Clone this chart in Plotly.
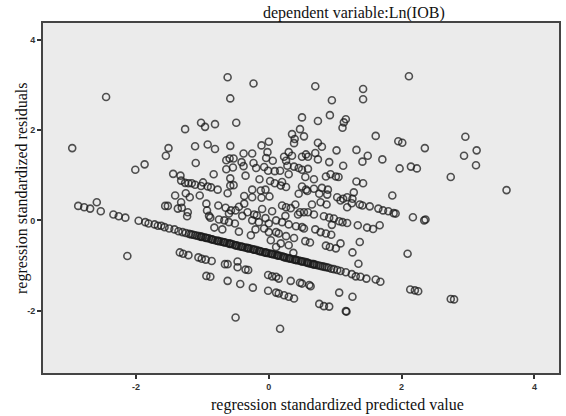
import plotly.graph_objects as go

# ---- data: (regression standardized predicted value, regression standardized residual) ----
upper_cloud = [
    (-0.62, 3.17), (-0.23, 3.03), (-0.58, 2.70), (-1.02, 2.16), (-0.96, 2.07), (-0.81, 2.13),
    (-1.26, 2.02), (-0.49, 2.16), (-1.51, 1.60), (-1.55, 1.43), (-1.11, 1.64), (-0.92, 1.68),
    (-0.81, 1.58), (-0.58, 1.65), (-1.10, 1.27), (-0.83, 1.02), (-1.44, 1.03), (0.00, 1.74),
    (-0.11, 1.66), (-0.38, 1.48), (-0.25, 1.48), (-0.02, 1.51), (-0.64, 1.33), (-0.53, 1.37),
    (-0.59, 1.37), (-0.04, 1.38), (0.06, 1.32), (-0.41, 1.29), (-0.23, 1.27), (-0.64, 1.13),
    (-0.54, 1.17), (-0.38, 1.20), (-0.19, 1.16), (-0.07, 1.18), (-0.01, 1.10), (0.09, 1.09),
    (-0.35, 0.99), (-1.33, 0.99), (-0.58, 0.93), (-0.14, 0.91), (0.02, 0.87), (0.09, 0.82),
    (-1.32, 0.88), (-1.26, 0.83), (-1.21, 0.82), (-1.16, 0.82), (-1.11, 0.79), (-1.02, 0.76),
    (-0.99, 0.84), (-0.92, 0.75), (-0.87, 0.73), (-0.77, 0.68), (-0.58, 0.77), (-0.53, 0.78),
    (-0.62, 0.60), (-0.25, 0.68), (-0.12, 0.66), (-0.05, 0.68), (-1.41, 0.55), (-1.25, 0.60),
    (-1.19, 0.51), (-1.04, 0.55), (-0.37, 0.54), (-0.25, 0.51), (-0.11, 0.50), (0.01, 0.53),
    (2.11, 3.19), (0.70, 2.97), (1.42, 2.91), (1.42, 2.68), (0.95, 2.66), (0.50, 2.28),
    (0.74, 2.20), (0.92, 2.33), (1.16, 2.24), (1.13, 2.17), (1.11, 2.05), (1.61, 1.87),
    (1.95, 1.75), (2.01, 1.72), (2.35, 1.60), (0.35, 1.91), (0.47, 2.02), (0.53, 1.86),
    (0.39, 1.80), (0.38, 1.71), (0.74, 1.72), (0.80, 1.63), (1.02, 1.55), (1.32, 1.56),
    (1.49, 1.43), (1.41, 1.30), (1.71, 1.35), (1.97, 1.15), (2.14, 1.19), (2.23, 1.15),
    (0.30, 1.51), (0.23, 1.41), (0.35, 1.43), (0.26, 1.32), (0.50, 1.41), (0.56, 1.46),
    (0.59, 1.41), (0.70, 1.49), (0.74, 1.35), (0.91, 1.29), (1.12, 1.21), (0.17, 1.10),
    (0.28, 1.21), (0.38, 1.19), (0.45, 1.16), (0.50, 1.12), (0.59, 1.14), (0.30, 1.02),
    (0.55, 0.96), (0.68, 0.91), (0.86, 0.97), (0.93, 1.02), (1.01, 0.97), (1.05, 0.96),
    (0.20, 0.85), (0.26, 0.74), (0.18, 0.77), (0.50, 0.75), (0.56, 0.68), (0.68, 0.70),
    (0.80, 0.72), (0.89, 0.68), (1.32, 0.86), (1.42, 0.82), (1.28, 0.62), (1.86, 0.55),
    (0.45, 0.59), (0.58, 0.65), (0.76, 0.59), (0.88, 0.57), (1.03, 0.51), (1.12, 0.48),
    (1.18, 0.51), (1.26, 0.48), (2.74, 0.96), (2.96, 1.85), (2.94, 1.43), (3.13, 1.55),
    (3.12, 1.22), (3.58, 0.67),
]

mid_cloud = [
    (-1.56, 0.32), (-1.52, 0.32), (-1.37, 0.26), (-1.31, 0.28), (-1.22, 0.18), (-1.23, 0.09),
    (-1.32, 0.40), (-0.94, 0.37), (-0.93, 0.22), (-0.90, 0.10), (-0.88, 0.06), (-0.76, 0.33),
    (-0.65, 0.28), (-0.57, 0.22), (-0.50, 0.22), (-0.60, 0.15), (-0.75, 0.02), (-0.67, 0.00),
    (-0.60, -0.04), (-0.51, -0.07), (-0.82, -0.16), (-0.70, -0.20), (-0.37, 0.37), (-0.32, 0.18),
    (-0.22, 0.13), (-0.18, 0.11), (-0.25, 0.00), (-0.15, -0.04), (-0.05, 0.05), (0.00, -0.07),
    (0.11, 0.00), (0.00, -0.26), (0.11, -0.26), (-0.07, -0.18), (-0.27, -0.33), (0.03, -0.44),
    (0.11, -0.59), (0.20, 0.33), (0.26, 0.29), (0.33, 0.27), (0.78, 0.40), (0.87, 0.35),
    (1.08, 0.44), (1.18, 0.29), (1.25, 0.38), (1.37, 0.35), (1.41, 0.33), (1.52, 0.31),
    (1.65, 0.26), (1.72, 0.22), (1.80, 0.20), (1.88, 0.16), (1.91, 0.15), (2.17, 0.07),
    (2.34, 0.00), (0.53, 0.18), (0.59, 0.18), (0.68, 0.13), (0.83, 0.09), (0.91, 0.06),
    (0.98, 0.04), (1.06, -0.02), (1.11, -0.04), (1.18, -0.06), (0.44, 0.13), (0.47, 0.18),
    (0.20, -0.04), (0.30, -0.09), (0.41, -0.13), (0.50, -0.15), (0.53, -0.18), (0.15, -0.29),
    (0.26, -0.35), (0.38, -0.39), (0.18, -0.51), (0.55, -0.46), (0.62, -0.49), (0.78, -0.26),
    (0.86, -0.29), (0.94, -0.32), (1.34, -0.11), (1.48, -0.16), (1.57, -0.19), (1.67, -0.11),
    (1.37, -0.48), (1.26, -0.71), (1.35, -0.96), (2.09, -0.74), (0.86, -0.56), (0.92, -0.59),
    (1.01, -0.62), (1.08, -0.51), (0.37, -0.72), (2.36, 0.02),
    (-0.45, 0.30), (-0.40, 0.10), (-0.10, 0.25), (0.05, 0.20), (0.25, 0.10), (0.40, 0.35),
    (-0.20, -0.20), (-0.45, -0.25), (0.30, -0.55), (0.70, -0.20), (0.65, 0.35), (0.95, -0.10),
]

main_band = [
    (-2.87, 0.32), (-2.78, 0.29), (-2.69, 0.26), (-2.59, 0.40), (-2.53, 0.20), (-2.34, 0.13),
    (-2.26, 0.09), (-2.16, 0.06), (-1.96, -0.01), (-1.86, -0.04), (-1.81, -0.07), (-1.72, -0.09),
    (-1.67, -0.12), (-1.62, -0.12), (-1.57, -0.15), (-1.50, -0.18), (-1.42, -0.20), (-1.36, -0.24),
    (-1.30, -0.26), (-1.25, -0.28),
    (-1.20, -0.30), (-1.17, -0.31), (-1.14, -0.32), (-1.11, -0.33), (-1.08, -0.34), (-1.05, -0.35),
    (-1.02, -0.36), (-0.99, -0.37), (-0.96, -0.38), (-0.93, -0.39), (-0.90, -0.40), (-0.87, -0.42),
    (-0.84, -0.43), (-0.81, -0.44), (-0.78, -0.45), (-0.75, -0.46), (-0.72, -0.47), (-0.69, -0.48),
    (-0.66, -0.49), (-0.63, -0.50), (-0.60, -0.51), (-0.57, -0.52), (-0.54, -0.53), (-0.51, -0.55),
    (-0.48, -0.56), (-0.45, -0.57), (-0.42, -0.58), (-0.39, -0.59), (-0.36, -0.60), (-0.33, -0.61),
    (-0.30, -0.62), (-0.27, -0.63), (-0.24, -0.64), (-0.21, -0.65), (-0.18, -0.66), (-0.15, -0.68),
    (-0.12, -0.69), (-0.09, -0.70), (-0.06, -0.71), (-0.03, -0.72), (0.00, -0.73), (0.03, -0.74),
    (0.06, -0.75), (0.09, -0.76), (0.12, -0.77), (0.15, -0.78), (0.18, -0.79), (0.21, -0.80),
    (0.24, -0.82), (0.27, -0.83), (0.30, -0.84), (0.33, -0.85), (0.36, -0.86), (0.39, -0.87),
    (0.42, -0.88), (0.45, -0.89), (0.48, -0.90), (0.51, -0.91), (0.54, -0.92), (0.57, -0.93),
    (0.60, -0.95), (0.63, -0.96), (0.66, -0.97), (0.69, -0.98), (0.72, -0.99), (0.75, -1.00),
    (0.78, -1.01), (0.81, -1.02), (0.84, -1.03), (0.87, -1.04), (0.90, -1.05), (0.94, -1.07),
    (0.98, -1.08), (1.03, -1.10), (1.08, -1.12), (1.16, -1.15), (1.25, -1.19), (1.31, -1.24),
    (1.38, -1.25), (1.47, -1.29), (1.61, -1.31), (1.68, -1.36),
    (-1.015, -0.365), (-0.945, -0.39), (-0.855, -0.42), (-0.765, -0.455), (-0.675, -0.485),
    (-0.585, -0.52), (-0.495, -0.55), (-0.405, -0.585), (-0.315, -0.615), (-0.225, -0.65),
    (-0.135, -0.68), (-0.045, -0.715), (0.045, -0.745), (0.135, -0.78), (0.225, -0.81),
    (0.315, -0.845), (0.405, -0.875), (0.495, -0.91), (0.585, -0.94), (0.675, -0.97),
]

lower_bands = [
    (-1.34, -0.71), (-1.29, -0.74), (-1.21, -0.77), (-1.06, -0.82), (-1.01, -0.85), (-0.95, -0.87),
    (-0.86, -0.90), (-0.66, -0.97), (-0.62, -0.97), (-0.47, -0.91), (-0.47, -1.04), (-0.35, -1.09),
    (-0.31, -1.10), (-0.01, -1.21), (0.05, -1.24), (0.11, -1.25), (-0.94, -1.23), (-0.88, -1.25),
    (-0.62, -1.34), (-0.43, -1.41), (-0.24, -1.49), (-0.01, -1.56), (0.11, -1.60), (0.15, -1.29),
    (0.33, -1.34), (0.47, -1.38), (0.50, -1.40), (0.61, -1.43), (0.63, -1.46), (0.15, -1.62),
    (0.23, -1.66), (0.30, -1.69), (0.38, -1.73), (1.06, -1.60), (1.26, -1.69), (0.76, -1.85),
    (0.83, -1.90), (0.91, -1.91), (1.16, -2.01), (1.17, -2.02), (2.13, -1.53), (2.20, -1.55),
    (2.25, -1.57), (2.74, -1.74), (2.79, -1.75),
]

outliers = [
    (-2.96, 1.60), (-2.45, 2.73), (-2.01, 1.12), (-1.87, 1.24), (-2.13, -0.79),
    (-0.50, -2.15), (0.17, -2.40),
]

tick_values = [-2, 0, 2, 4]
tick_labels = ["-2", "0", "2", "4"]

groups = [upper_cloud, mid_cloud, main_band, lower_bands, outliers]

fig = go.Figure()
for g in groups:
    fig.add_trace(go.Scatter(
        x=[p[0] for p in g], y=[p[1] for p in g], mode="markers",
        marker=dict(symbol="circle-open", size=7, color="rgba(25,25,25,0.75)",
                    line=dict(width=1.6, color="rgba(25,25,25,0.75)")),
        showlegend=False, hoverinfo="skip"))

axis_common = dict(showgrid=False, zeroline=False, showline=True, mirror=True,
                   linecolor="#444444", linewidth=2, ticks="outside", ticklen=4,
                   tickwidth=1.8, tickcolor="#333333",
                   tickvals=tick_values, ticktext=["<b>%s</b>" % t for t in tick_labels],
                   tickfont=dict(family="Liberation Sans", size=9, color="#333333"))

fig.update_layout(
    width=566, height=416,
    margin=dict(l=43, r=5, t=23, b=43),
    paper_bgcolor="white", plot_bgcolor="#ebebeb",
    xaxis=dict(range=[-3.40, 4.37], **axis_common),
    yaxis=dict(range=[-3.38, 4.37], **axis_common),
    annotations=[
        dict(text="dependent variable:Ln(IOB)", xref="paper", yref="paper",
             x=0.602, y=1.029, showarrow=False, xanchor="center", yanchor="middle",
             font=dict(family="Liberation Serif", size=16, color="#111111")),
        dict(text="regression standardized predicted value", xref="paper", yref="paper",
             x=0.571, y=-0.091, showarrow=False, xanchor="center", yanchor="middle",
             font=dict(family="Liberation Serif", size=16, color="#111111")),
        dict(text="regression standardized residuals", xref="paper", yref="paper",
             x=-0.0405, y=0.526, showarrow=False, xanchor="center", yanchor="middle",
             textangle=-90,
             font=dict(family="Liberation Serif", size=16, color="#111111")),
    ],
)

fig.write_html("out.html")
